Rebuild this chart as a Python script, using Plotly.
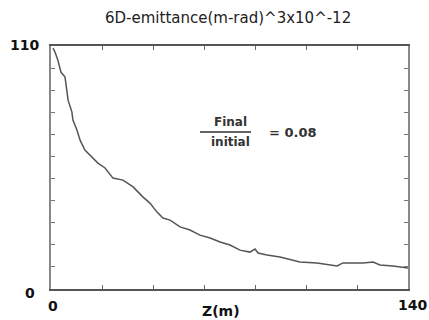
import plotly.graph_objects as go

z_m = [0.8, 1.6, 2.7, 3.9, 5.5, 6.7, 8.2, 8.6, 10.2, 11.4, 13.3, 16.1, 18.4, 21.2,
       24.3, 28.2, 32.2, 36.1, 38.8, 41.6, 43.9, 46.7, 50.6, 54.5, 58.4, 62.4,
       66.3, 70.2, 74.1, 78.0, 80.0, 81.2, 84.7, 89.8, 97.6, 104.3, 112.2, 114.5,
       122.4, 126.3, 129.0, 134.1, 138.8, 140.0]
emittance = [109, 107.2, 103.6, 98.2, 95.9, 85.5, 80.1, 76.5, 71.9, 67.4, 62.9, 59.7,
             57.0, 54.8, 50.2, 49.3, 46.2, 41.6, 38.9, 34.8, 32.1, 31.2, 28.1, 26.7,
             24.4, 23.1, 21.3, 19.9, 17.6, 16.7, 18.1, 16.3, 15.4, 14.5, 12.2, 11.8,
             10.4, 11.8, 11.8, 12.2, 10.9, 10.4, 9.5, 9.5]

title_text = "6D-emittance(m-rad)^3x10^-12"
x_label = "Z(m)"
ratio_text = "= 0.08"

FONT = "DejaVu Sans"

fig = go.Figure()
fig.add_trace(go.Scatter(x=z_m, y=emittance, mode="lines",
                         line=dict(color="#555555", width=1.5),
                         showlegend=False, hoverinfo="skip"))

fig.update_layout(
    width=429, height=320,
    margin=dict(l=51, r=21, t=46, b=31),
    paper_bgcolor="white", plot_bgcolor="white",
    xaxis=dict(range=[0, 140], dtick=20, tick0=0, ticks="inside", ticklen=4,
               tickcolor="#666", showticklabels=False, showgrid=False, zeroline=False,
               showline=True, linecolor="#555", linewidth=2, mirror="ticks"),
    yaxis=dict(range=[0, 110], dtick=10, tick0=0, ticks="inside", ticklen=4,
               tickcolor="#777", showticklabels=False, showgrid=False, zeroline=False,
               showline=True, linecolor="#888", linewidth=2, mirror="ticks"),
    annotations=[
        dict(text=title_text, xref="paper", yref="paper", x=(228 - 51) / 357, y=1.0, yshift=28,
             showarrow=False, font=dict(family=FONT, size=15, color="#222"), xanchor="center", yanchor="middle"),
        dict(text="<b>110</b>", xref="paper", yref="y", x=0, y=110, xshift=-27, yshift=1,
             showarrow=False, font=dict(family=FONT, size=14, color="#111"), xanchor="center", yanchor="middle"),
        dict(text="<b>0</b>", xref="paper", yref="y", x=0, y=0, xshift=-21, yshift=-4,
             showarrow=False, font=dict(family=FONT, size=14, color="#111"), xanchor="center", yanchor="middle"),
        dict(text="<b>0</b>", xref="x", yref="paper", x=0, y=0, xshift=2, yshift=-17,
             showarrow=False, font=dict(family=FONT, size=14, color="#111"), xanchor="center", yanchor="middle"),
        dict(text="<b>140</b>", xref="x", yref="paper", x=140, y=0, xshift=4, yshift=-16,
             showarrow=False, font=dict(family=FONT, size=14, color="#111"), xanchor="center", yanchor="middle"),
        dict(text="<b>" + x_label + "</b>", xref="paper", yref="paper", x=(221 - 51) / 357, y=0, yshift=-22,
             showarrow=False, font=dict(family=FONT, size=14, color="#111"), xanchor="center", yanchor="middle"),
        dict(text="<b>Final</b>", xref="paper", yref="paper", x=(230 - 51) / 357, y=(289 - 122) / 243,
             showarrow=False, font=dict(family=FONT, size=12, color="#333"), xanchor="center", yanchor="middle"),
        dict(text="<b>initial</b>", xref="paper", yref="paper", x=(230 - 51) / 357, y=(289 - 142) / 243,
             showarrow=False, font=dict(family=FONT, size=12, color="#333"), xanchor="center", yanchor="middle"),
        dict(text="<b>" + ratio_text + "</b>", xref="paper", yref="paper", x=(293 - 51) / 357, y=(289 - 132) / 243,
             showarrow=False, font=dict(family=FONT, size=13, color="#333"), xanchor="center", yanchor="middle"),
    ],
    shapes=[dict(type="line", xref="paper", yref="paper",
                 x0=(200 - 51) / 357, x1=(251 - 51) / 357,
                 y0=(289 - 132) / 243, y1=(289 - 132) / 243,
                 line=dict(color="#333", width=1.5))],
)

fig.write_html("out.html", config={"displayModeBar": False},
               post_script="document.body.style.margin='0';document.body.style.overflow='hidden';")
